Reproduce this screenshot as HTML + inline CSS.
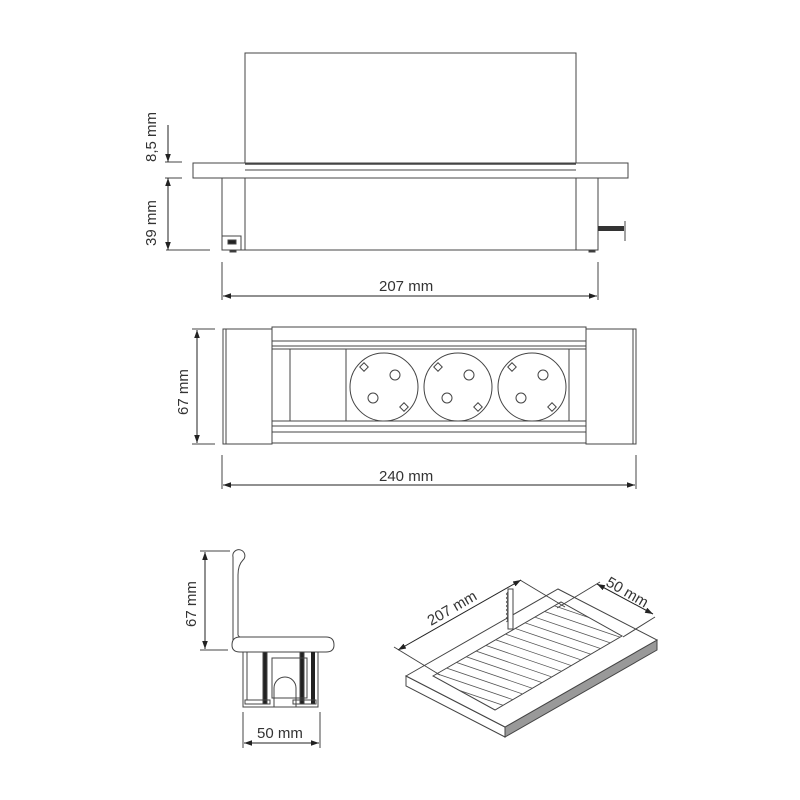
<!DOCTYPE html>
<html><head><meta charset="utf-8"><style>
html,body{margin:0;padding:0;background:#fff}
svg{display:block}
text{font-family:"Liberation Sans",sans-serif;font-size:15px;fill:#333}
</style></head><body>
<svg width="800" height="800" viewBox="0 0 800 800" xmlns="http://www.w3.org/2000/svg">
<defs>
<marker id="a" viewBox="0 0 10 10" refX="10" refY="5" markerWidth="8" markerHeight="8" orient="auto-start-reverse" markerUnits="userSpaceOnUse"><path d="M0,1.5 L10,5 L0,8.5 z" fill="#222"/></marker>
</defs>
<g stroke="#444" stroke-width="1" fill="none">
<!-- TOP VIEW -->
<rect x="245" y="53" width="331" height="111" fill="#fff"/>
<rect x="193" y="163" width="435" height="15" fill="#fff"/>
<line x1="245" y1="170" x2="576" y2="170"/>
<line x1="245" y1="164" x2="576" y2="164" stroke-width="1.5"/>
<rect x="222" y="178" width="376" height="72" fill="#fff"/>
<line x1="245" y1="178" x2="245" y2="250"/>
<line x1="576" y1="178" x2="576" y2="250"/>
<rect x="222" y="236" width="19" height="14"/>
<rect x="228" y="240" width="8" height="4" fill="#222"/>
<rect x="230" y="250" width="6" height="2" fill="#333"/>
<rect x="589" y="250" width="6" height="2" fill="#333"/>
<rect x="598" y="226" width="26" height="5" fill="#333" stroke="none"/>
<line x1="625" y1="221" x2="625" y2="241"/>
<!-- dims top -->
<line x1="165" y1="162" x2="182" y2="162"/>
<line x1="165" y1="178" x2="182" y2="178"/>
<line x1="168" y1="125" x2="168" y2="162" marker-end="url(#a)" stroke="#222"/>
<line x1="166" y1="250" x2="210" y2="250"/>
<line x1="168" y1="178" x2="168" y2="250" marker-start="url(#a)" marker-end="url(#a)" stroke="#222"/>
<line x1="222" y1="262" x2="222" y2="300"/>
<line x1="598" y1="262" x2="598" y2="300"/>
<line x1="223" y1="296" x2="597" y2="296" marker-start="url(#a)" marker-end="url(#a)" stroke="#222"/>

<!-- MIDDLE VIEW -->
<rect x="272" y="327" width="314" height="116" fill="#fff"/>
<line x1="272" y1="341" x2="586" y2="341"/>
<line x1="272" y1="346" x2="586" y2="346"/>
<line x1="272" y1="349" x2="586" y2="349"/>
<line x1="272" y1="421" x2="586" y2="421"/>
<line x1="272" y1="426" x2="586" y2="426"/>
<line x1="272" y1="432" x2="586" y2="432"/>
<line x1="290" y1="349" x2="290" y2="421"/>
<line x1="346" y1="349" x2="346" y2="421"/>
<line x1="569" y1="349" x2="569" y2="421"/>
<rect x="223" y="329" width="49" height="115" fill="#fff"/>
<line x1="226" y1="329" x2="226" y2="444"/>
<rect x="586" y="329" width="50" height="115" fill="#fff"/>
<line x1="633" y1="329" x2="633" y2="444"/>
<g>
<circle cx="384" cy="387" r="34"/><circle cx="395" cy="375" r="5"/><circle cx="373" cy="398" r="5"/>
<rect x="361" y="364" width="6" height="6" transform="rotate(45 364 367)"/><rect x="401" y="404" width="6" height="6" transform="rotate(45 404 407)"/>
<circle cx="458" cy="387" r="34"/><circle cx="469" cy="375" r="5"/><circle cx="447" cy="398" r="5"/>
<rect x="435" y="364" width="6" height="6" transform="rotate(45 438 367)"/><rect x="475" y="404" width="6" height="6" transform="rotate(45 478 407)"/>
<circle cx="532" cy="387" r="34"/><circle cx="543" cy="375" r="5"/><circle cx="521" cy="398" r="5"/>
<rect x="509" y="364" width="6" height="6" transform="rotate(45 512 367)"/><rect x="549" y="404" width="6" height="6" transform="rotate(45 552 407)"/>
</g>
<line x1="192" y1="329" x2="215" y2="329"/>
<line x1="192" y1="444" x2="215" y2="444"/>
<line x1="197" y1="330" x2="197" y2="443" marker-start="url(#a)" marker-end="url(#a)" stroke="#222"/>
<line x1="222" y1="455" x2="222" y2="489"/>
<line x1="636" y1="455" x2="636" y2="489"/>
<line x1="223" y1="485" x2="635" y2="485" marker-start="url(#a)" marker-end="url(#a)" stroke="#222"/>

<!-- SIDE PROFILE -->
<path d="M233,640 L233,557 A6,6 0 1 1 243,560 Q238,565 238,575 L238,635 Q239,638 245,638" fill="#fff"/>
<path d="M240,637 L326,637 Q334,637 334,645 Q334,652 326,652 L240,652 Q232,652 232,645 Q232,637 240,637 z" fill="#fff"/>
<rect x="243" y="652" width="75" height="55" fill="#fff"/>
<line x1="247" y1="652" x2="247" y2="700"/>
<line x1="314" y1="652" x2="314" y2="700"/>
<rect x="263" y="652" width="4" height="52" fill="#222"/>
<rect x="311" y="652" width="4" height="52" fill="#222" stroke="none"/>
<rect x="300" y="652" width="4" height="52" fill="#222"/>
<rect x="272" y="658" width="35" height="40"/>
<path d="M274,707 L274,688 A11,11 0 0 1 296,688 L296,707"/>
<rect x="245" y="700" width="25" height="4"/><rect x="293" y="700" width="23" height="4"/>
<line x1="243" y1="707" x2="318" y2="707"/>
<line x1="200" y1="551" x2="230" y2="551"/>
<line x1="200" y1="650" x2="228" y2="650"/>
<line x1="205" y1="552" x2="205" y2="649" marker-start="url(#a)" marker-end="url(#a)" stroke="#222"/>
<line x1="243" y1="712" x2="243" y2="748"/>
<line x1="320" y1="712" x2="320" y2="748"/>
<line x1="244" y1="743" x2="319" y2="743" marker-start="url(#a)" marker-end="url(#a)" stroke="#222"/>

<!-- ISOMETRIC -->
<path d="M406,676 L505,727 L505,737 L406,686 z" fill="#fff"/>
<path d="M505,727 L657,640 L657,650 L505,737 z" fill="#999"/>
<path d="M406,676 L558,589 L657,640 L505,727 z" fill="#fff"/>
<path d="M433,676 L561,602 L622,636 L495,710 z" fill="#fff"/>
<clipPath id="c"><path d="M433,676 L561,602 L622,636 L495,710 z"/></clipPath>
<g clip-path="url(#c)" stroke="#555" stroke-width="0.8">
<path d="M420,560 l220,75 M420,569 l220,75 M420,578 l220,75 M420,587 l220,75 M420,596 l220,75 M420,605 l220,75 M420,614 l220,75 M420,623 l220,75 M420,632 l220,75 M420,641 l220,75 M420,650 l220,75 M420,659 l220,75 M420,668 l220,75 M420,677 l220,75 M420,551 l220,75 M420,542 l220,75 M420,533 l220,75 M420,524 l220,75"/>
</g>
<rect x="508" y="589" width="5" height="40" fill="#fff"/>
<path d="M508,592 l-1.5,2 l1.5,2 l-1.5,2 l1.5,2 l-1.5,2 l1.5,2 l-1.5,2 l1.5,2 l-1.5,2 l1.5,2 l-1.5,2 l1.5,2 l-1.5,2 l1.5,2 l-1.5,2"/>
<line x1="394" y1="647" x2="440" y2="675"/>
<line x1="520" y1="580" x2="565" y2="607"/>
<line x1="398" y1="650" x2="521" y2="580" marker-start="url(#a)" marker-end="url(#a)" stroke="#222"/>
<line x1="557" y1="608" x2="600" y2="582"/>
<line x1="623" y1="637" x2="655" y2="617"/>
<line x1="597" y1="584" x2="653" y2="614" marker-start="url(#a)" marker-end="url(#a)" stroke="#222"/>
</g>
<text x="0" y="0" transform="translate(156,162) rotate(-90)">8,5 mm</text>
<text x="0" y="0" transform="translate(156,246) rotate(-90)">39 mm</text>
<text x="379" y="291">207 mm</text>
<text x="0" y="0" transform="translate(188,415) rotate(-90)">67 mm</text>
<text x="379" y="481">240 mm</text>
<text x="0" y="0" transform="translate(196,627) rotate(-90)">67 mm</text>
<text x="257" y="738">50 mm</text>
<text x="0" y="0" transform="translate(431,626) rotate(-30)">207 mm</text>
<text x="0" y="0" transform="translate(605,585) rotate(30)">50 mm</text>
</svg>
</body></html>
